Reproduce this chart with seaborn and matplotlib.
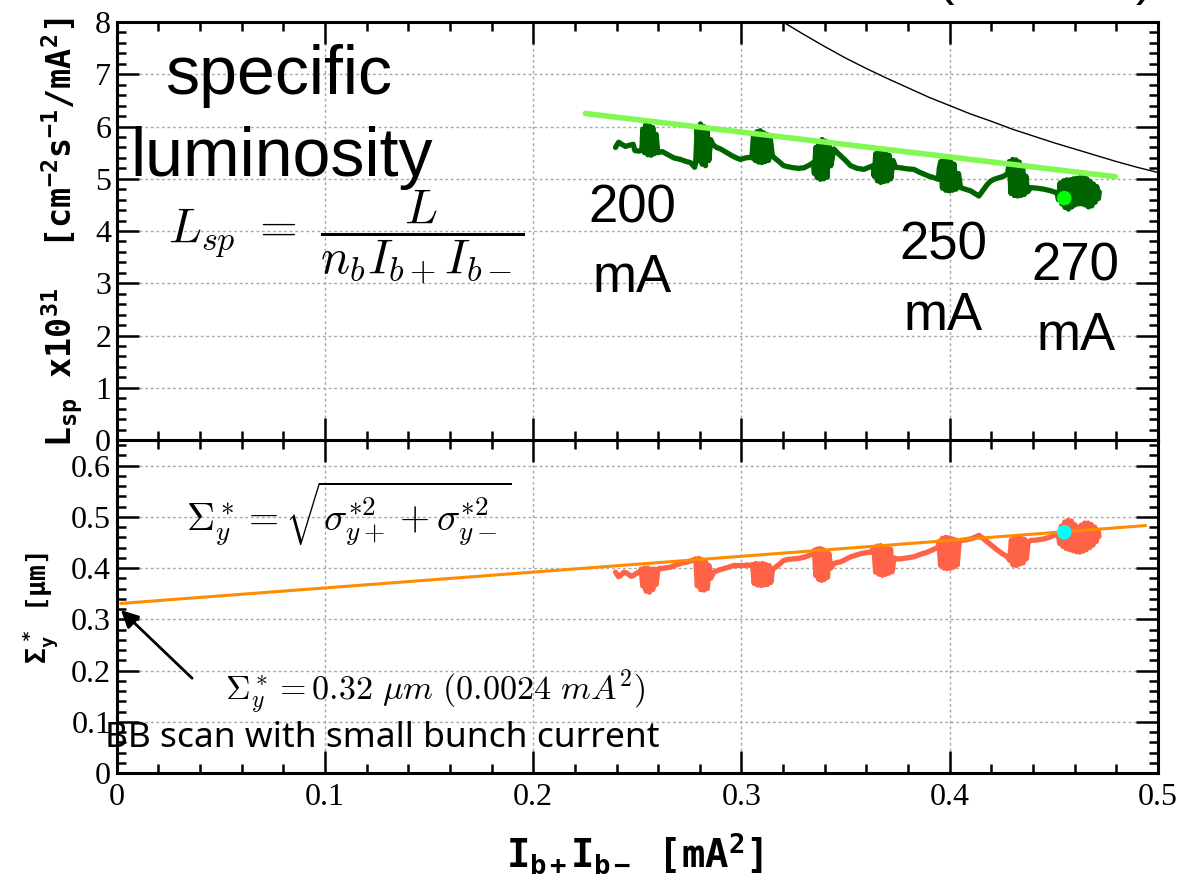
import matplotlib
matplotlib.use("Agg")
import matplotlib.pyplot as plt
import seaborn as sns
import pandas as pd
from matplotlib.ticker import MultipleLocator, FuncFormatter

# ---------------- data ----------------
x_range = [0.0, 0.5]
lsp_range = [0.0, 8.0]
sig_range = [0.0, 0.65]

# measured specific luminosity trace (I_b+ I_b-, L_sp)
lsp_trace = [
    (0.2395, 5.60), (0.2410, 5.70), (0.2425, 5.66), (0.2443, 5.62), (0.2460, 5.64), (0.2480, 5.66),
    (0.2488, 5.54), (0.2510, 5.53), (0.2522, 5.56),
    (0.2526, 5.95), (0.2534, 5.50), (0.2542, 6.05), (0.2550, 5.46), (0.2558, 6.02), (0.2566, 5.45),
    (0.2574, 5.98), (0.2582, 5.48), (0.2590, 5.85), (0.2598, 5.50),
    (0.2620, 5.52), (0.2643, 5.47), (0.2675, 5.40), (0.2707, 5.37), (0.2735, 5.33), (0.2755, 5.31),
    (0.2775, 5.22),
    (0.2780, 5.30), (0.2787, 5.95), (0.2795, 5.35), (0.2803, 6.05), (0.2811, 5.28), (0.2819, 6.00),
    (0.2827, 5.25), (0.2835, 5.95), (0.2843, 5.35), (0.2852, 5.75),
    (0.2862, 5.66), (0.2880, 5.60), (0.2900, 5.57), (0.2930, 5.50), (0.2955, 5.44), (0.2975, 5.40),
    (0.2995, 5.37), (0.3020, 5.40), (0.3043, 5.41),
    (0.3050, 5.40), (0.3058, 5.85), (0.3066, 5.35), (0.3074, 5.90), (0.3082, 5.32), (0.3090, 5.92),
    (0.3098, 5.31), (0.3106, 5.88), (0.3114, 5.33), (0.3122, 5.85), (0.3130, 5.35), (0.3138, 5.78),
    (0.3148, 5.45),
    (0.3155, 5.41), (0.3180, 5.33), (0.3203, 5.25), (0.3225, 5.23), (0.3251, 5.21), (0.3275, 5.20),
    (0.3300, 5.21), (0.3325, 5.26), (0.3345, 5.31),
    (0.3350, 5.10), (0.3357, 5.60), (0.3364, 5.02), (0.3371, 5.70), (0.3379, 4.99), (0.3387, 5.75),
    (0.3395, 5.00), (0.3403, 5.72), (0.3411, 5.03), (0.3419, 5.68), (0.3429, 5.25),
    (0.3444, 5.57), (0.3460, 5.50), (0.3476, 5.44), (0.3500, 5.35), (0.3524, 5.25), (0.3555, 5.20),
    (0.3588, 5.18), (0.3612, 5.22), (0.3632, 5.25),
    (0.3637, 5.05), (0.3645, 5.48), (0.3653, 4.96), (0.3661, 5.53), (0.3669, 4.93), (0.3677, 5.50),
    (0.3685, 4.95), (0.3693, 5.48), (0.3701, 4.96), (0.3709, 5.45), (0.3717, 5.00), (0.3728, 5.35),
    (0.3740, 5.22), (0.3764, 5.21), (0.3795, 5.19), (0.3828, 5.18), (0.3852, 5.13), (0.3876, 5.09),
    (0.3900, 5.05), (0.3924, 5.02), (0.3945, 4.99),
    (0.3950, 5.20), (0.3957, 5.33), (0.3965, 4.82), (0.3973, 5.37), (0.3981, 4.78), (0.3989, 5.35),
    (0.3997, 4.77), (0.4005, 5.32), (0.4013, 4.78), (0.4021, 5.28), (0.4030, 4.80), (0.4042, 5.10),
    (0.4052, 4.83), (0.4075, 4.80), (0.4100, 4.77), (0.4120, 4.72), (0.4140, 4.67), (0.4160, 4.78),
    (0.4180, 4.89), (0.4195, 4.95), (0.4213, 4.99), (0.4236, 5.02), (0.4260, 5.05),
    (0.4278, 5.10), (0.4286, 5.33), (0.4294, 4.72), (0.4302, 5.37), (0.4310, 4.68), (0.4318, 5.36),
    (0.4326, 4.67), (0.4334, 5.32), (0.4342, 4.68), (0.4350, 5.25), (0.4358, 4.70), (0.4366, 5.05),
    (0.4374, 4.75),
    (0.4389, 4.83), (0.4420, 4.82), (0.4453, 4.80), (0.4485, 4.77), (0.4515, 4.73),
    (0.4522, 4.60), (0.4530, 4.92), (0.4538, 4.52), (0.4546, 4.96), (0.4554, 4.45), (0.4562, 4.98),
    (0.4570, 4.42), (0.4578, 4.98), (0.4586, 4.46), (0.4594, 5.00), (0.4602, 4.50), (0.4610, 5.01),
    (0.4618, 4.52), (0.4626, 5.02), (0.4634, 4.52), (0.4642, 5.02), (0.4650, 4.50), (0.4658, 5.00),
    (0.4666, 4.46), (0.4674, 4.95), (0.4682, 4.48), (0.4690, 4.90), (0.4698, 4.55), (0.4706, 4.85),
    (0.4714, 4.62), (0.4718, 4.75),
]

# vertical beam size trace (I_b+ I_b-, Sigma_y*)
sig_trace = [
    (0.2395, 0.392), (0.2410, 0.383), (0.2420, 0.386), (0.2435, 0.392), (0.2450, 0.390), (0.2470, 0.384),
    (0.2483, 0.386), (0.2500, 0.391), (0.2512, 0.392),
    (0.2518, 0.398), (0.2526, 0.365), (0.2534, 0.400), (0.2542, 0.355), (0.2550, 0.400), (0.2558, 0.353),
    (0.2566, 0.398), (0.2574, 0.358), (0.2582, 0.398), (0.2590, 0.368), (0.2598, 0.395),
    (0.2603, 0.399), (0.2630, 0.400), (0.2659, 0.402), (0.2685, 0.406), (0.2707, 0.409), (0.2740, 0.412),
    (0.2771, 0.416),
    (0.2780, 0.418), (0.2788, 0.365), (0.2796, 0.419), (0.2804, 0.358), (0.2812, 0.416), (0.2820, 0.357),
    (0.2828, 0.412), (0.2836, 0.360), (0.2844, 0.405), (0.2852, 0.380),
    (0.2867, 0.392), (0.2890, 0.396), (0.2915, 0.399), (0.2940, 0.402), (0.2963, 0.405), (0.2990, 0.405),
    (0.3011, 0.405), (0.3030, 0.406), (0.3048, 0.405),
    (0.3053, 0.407), (0.3061, 0.370), (0.3069, 0.409), (0.3077, 0.367), (0.3085, 0.408), (0.3093, 0.366),
    (0.3101, 0.409), (0.3109, 0.367), (0.3117, 0.407), (0.3125, 0.368), (0.3133, 0.405), (0.3141, 0.372),
    (0.3149, 0.398),
    (0.3155, 0.399), (0.3180, 0.407), (0.3203, 0.415), (0.3225, 0.417), (0.3251, 0.418), (0.3275, 0.419),
    (0.3300, 0.421), (0.3325, 0.425), (0.3345, 0.428),
    (0.3350, 0.435), (0.3357, 0.385), (0.3364, 0.437), (0.3371, 0.378), (0.3378, 0.438), (0.3385, 0.376),
    (0.3392, 0.436), (0.3399, 0.378), (0.3406, 0.432), (0.3413, 0.382), (0.3420, 0.428), (0.3429, 0.400),
    (0.3444, 0.409), (0.3460, 0.411), (0.3476, 0.412), (0.3500, 0.417), (0.3524, 0.422), (0.3548, 0.425),
    (0.3572, 0.428), (0.3596, 0.430), (0.3620, 0.431),
    (0.3636, 0.440), (0.3644, 0.392), (0.3652, 0.443), (0.3660, 0.388), (0.3668, 0.444), (0.3676, 0.386),
    (0.3684, 0.442), (0.3692, 0.388), (0.3700, 0.440), (0.3708, 0.390), (0.3716, 0.437), (0.3724, 0.393),
    (0.3732, 0.420),
    (0.3745, 0.418), (0.3764, 0.418), (0.3795, 0.420), (0.3828, 0.422), (0.3860, 0.427), (0.3892, 0.431),
    (0.3920, 0.436), (0.3945, 0.441),
    (0.3948, 0.452), (0.3956, 0.405), (0.3964, 0.458), (0.3972, 0.400), (0.3980, 0.460), (0.3988, 0.399),
    (0.3996, 0.459), (0.4004, 0.400), (0.4012, 0.457), (0.4020, 0.402), (0.4028, 0.455), (0.4036, 0.406),
    (0.4045, 0.450),
    (0.4052, 0.454), (0.4075, 0.455), (0.4100, 0.457), (0.4120, 0.460), (0.4140, 0.464), (0.4160, 0.458),
    (0.4180, 0.451), (0.4205, 0.443), (0.4229, 0.435), (0.4253, 0.428), (0.4277, 0.422),
    (0.4288, 0.415), (0.4296, 0.455), (0.4304, 0.406), (0.4312, 0.458), (0.4320, 0.405), (0.4328, 0.460),
    (0.4336, 0.408), (0.4344, 0.458), (0.4352, 0.410), (0.4360, 0.456), (0.4368, 0.418), (0.4376, 0.450),
    (0.4389, 0.454), (0.4420, 0.455), (0.4453, 0.457), (0.4478, 0.460), (0.4501, 0.464),
    (0.4520, 0.468), (0.4528, 0.448), (0.4536, 0.482), (0.4544, 0.442), (0.4552, 0.490), (0.4560, 0.438),
    (0.4568, 0.493), (0.4576, 0.436), (0.4584, 0.492), (0.4592, 0.434), (0.4600, 0.485), (0.4608, 0.432),
    (0.4616, 0.480), (0.4624, 0.431), (0.4632, 0.484), (0.4640, 0.433), (0.4648, 0.488), (0.4656, 0.436),
    (0.4664, 0.488), (0.4672, 0.440), (0.4680, 0.485), (0.4688, 0.445), (0.4696, 0.480), (0.4704, 0.452),
    (0.4712, 0.474), (0.4717, 0.462),
]

# thin black reference curve in the luminosity panel
lsp_curve_x = [0.315, 0.320, 0.330, 0.340, 0.350, 0.360, 0.370, 0.380, 0.390, 0.400, 0.410, 0.420,
               0.430, 0.440, 0.450, 0.460, 0.470, 0.480, 0.490, 0.500]
lsp_curve_y = [8.12, 8.00, 7.76, 7.53, 7.31, 7.11, 6.92, 6.74, 6.56, 6.40, 6.24, 6.10,
               5.95, 5.82, 5.69, 5.57, 5.45, 5.33, 5.22, 5.12]

# linear fits
lsp_fit_x = [0.225, 0.4795]
lsp_fit_y = [6.25, 5.04]
sig_fit_x = [0.002, 0.494]
sig_fit_y = [0.331, 0.483]

# highlighted points
lsp_point = (0.455, 4.63)
sig_point = (0.455, 0.470)

# current annotations
current_labels = ["200", "250", "270"]
current_x = [0.2476, 0.3970, 0.4605]
current_num_y = [4.17, 3.45, 3.05]
current_unit_y = [2.84, 2.11, 1.73]

arrow_tip = (0.002, 0.318)
arrow_tail = (0.0362, 0.185)

# ---------------- style ----------------
sns.set_theme(style="white")
plt.rcParams.update({
    "font.family": ["Liberation Serif", "DejaVu Sans"],
    "text.color": "black",
    "axes.labelcolor": "black",
    "mathtext.fontset": "custom",
    "mathtext.rm": "DejaVu Sans Mono:bold",
    "mathtext.it": "DejaVu Sans Mono:bold",
    "mathtext.bf": "DejaVu Sans Mono:bold",
    "mathtext.sf": "DejaVu Sans Mono:bold",
    "axes.edgecolor": "black",
    "axes.linewidth": 2.2,
    "xtick.color": "black",
    "ytick.color": "black",
    "xtick.labelcolor": "black",
    "ytick.labelcolor": "black",
})

fig = plt.figure(figsize=(11.9, 8.92), dpi=100)
ax1 = fig.add_axes([0.0981, 0.5067, 0.8750, 0.4686])
ax2 = fig.add_axes([0.0981, 0.1334, 0.8750, 0.3733], sharex=ax1)

df_lsp = pd.DataFrame(lsp_trace, columns=["I", "v"])
df_sig = pd.DataFrame(sig_trace, columns=["I", "v"])

# ---- top panel ----
sns.lineplot(x=lsp_curve_x, y=lsp_curve_y, ax=ax1, color="black", linewidth=1.0,
             sort=False, estimator=None)
sns.lineplot(data=df_lsp, x="I", y="v", ax=ax1, color="#006400", linewidth=3.8,
             sort=False, estimator=None, zorder=3)
sns.lineplot(x=lsp_fit_x, y=lsp_fit_y, ax=ax1, color="#82F850", linewidth=4.0,
             sort=False, estimator=None, zorder=4)
sns.scatterplot(x=[lsp_point[0]], y=[lsp_point[1]], ax=ax1, color="#00FF00", s=110,
                edgecolor="none", zorder=5)

# ---- bottom panel ----
sns.lineplot(data=df_sig, x="I", y="v", ax=ax2, color="#FF6347", linewidth=3.8,
             sort=False, estimator=None, zorder=3)
sns.lineplot(x=sig_fit_x, y=sig_fit_y, ax=ax2, color="#FF8C00", linewidth=2.2,
             sort=False, estimator=None, zorder=4)
sns.scatterplot(x=[sig_point[0]], y=[sig_point[1]], ax=ax2, color="#00FFFF", s=110,
                edgecolor="none", zorder=5)

fmt = FuncFormatter(lambda v, p: f"{v:g}")
for ax in (ax1, ax2):
    ax.set_xlim(*x_range)
    ax.xaxis.set_major_locator(MultipleLocator(0.1))
    ax.xaxis.set_minor_locator(MultipleLocator(0.02))
    ax.xaxis.set_major_formatter(fmt)
    ax.yaxis.set_major_formatter(fmt)
    ax.tick_params(which="both", direction="in", top=True, right=True, bottom=True, left=True,
                   width=1.8, labelsize=23, pad=4, colors="black")
    ax.tick_params(which="major", length=16)
    ax.tick_params(which="minor", length=6.5)
    ax.grid(True, which="major", color="#a8a8a8", linestyle=(0, (2, 2)), linewidth=1.0)
    ax.set_xlabel("")
    ax.set_ylabel("")
    for s in ax.spines.values():
        s.set_visible(True)
        s.set_linewidth(2.2)
        s.set_color("black")

ax1.set_ylim(*lsp_range)
ax1.yaxis.set_major_locator(MultipleLocator(1))
ax1.yaxis.set_minor_locator(MultipleLocator(0.2))
ax1.tick_params(labelbottom=False)

ax2.set_ylim(*sig_range)
ax2.yaxis.set_major_locator(MultipleLocator(0.1))
ax2.yaxis.set_minor_locator(MultipleLocator(0.02))
ax2.tick_params(axis="x", pad=7)

# ---- texts, top panel ----
ax1.text(0.0231, 6.62, "specific", family="Liberation Sans", fontsize=49, va="baseline", ha="left",
         color="black")
ax1.text(0.0064, 5.05, "luminosity", family="Liberation Sans", fontsize=49, va="baseline", ha="left",
         color="black")
ax1.text(0.0247, 3.90, r"$L_{sp}\ =\ \dfrac{L}{n_b I_{b+} I_{b-}}$", math_fontfamily="cm",
         fontsize=35, va="center", ha="left", color="black")
for lab, cx, ny, uy in zip(current_labels, current_x, current_num_y, current_unit_y):
    ax1.text(cx, ny, lab, family="Liberation Sans", fontsize=38, ha="center", va="baseline",
             color="black")
    ax1.text(cx, uy, "mA", family="Liberation Sans", fontsize=38, ha="center", va="baseline",
             color="black")

# ---- texts, bottom panel ----
ax2.text(0.0334, 0.507, r"$\Sigma^*_y = \sqrt{\sigma^{*2}_{y+} + \sigma^{*2}_{y-}}$",
         math_fontfamily="cm", fontsize=28, va="center", ha="left", color="black")
ax2.text(0.052, 0.157, r"$\Sigma^*_y = 0.32\ \mu m\ (0.0024\ mA^2)$",
         math_fontfamily="cm", fontsize=24.5, va="center", ha="left", color="black")
ax2.text(-0.0056, 0.0507, "BB scan with small bunch current", family="Noto Sans",
         fontsize=25.5, va="baseline", ha="left", color="black")
ax2.annotate("", xy=arrow_tip, xytext=arrow_tail,
             arrowprops=dict(arrowstyle="-|>", color="black", lw=2.0, mutation_scale=26,
                             shrinkA=0, shrinkB=0))

# ---- axis labels ----
fig.text(62 / 1190, 1 - 232 / 892,
         r"L$_{sp}$ x10$^{31}$  [cm$^{-2}$s$^{-1}$/mA$^{2}$]",
         family="DejaVu Sans Mono", fontweight="bold", fontsize=24, color="black",
         rotation=90, ha="center", va="center")
fig.text(40 / 1190, 1 - 608 / 892, r"$\Sigma_y^{\ *}$ [μm]",
         family="DejaVu Sans Mono", fontweight="bold", fontsize=19, color="black",
         rotation=90, ha="center", va="center")
fig.text(635 / 1190, 1 - 853 / 892, r"I$_{b+}$I$_{b-}$ [mA$^{2}$]",
         family="DejaVu Sans Mono", fontweight="bold", fontsize=28, color="black",
         ha="center", va="center")

# clipped title parentheses at the very top edge (cut off in the reference too)
fig.text(937 / 1190, 1 + 6 / 892, "(", family="Liberation Sans", fontsize=38, va="baseline",
         ha="left", color="black")
fig.text(1153 / 1190, 1 + 6 / 892, ")", family="Liberation Sans", fontsize=38, va="baseline",
         ha="right", color="black")

fig.savefig("out.png", dpi=100)
